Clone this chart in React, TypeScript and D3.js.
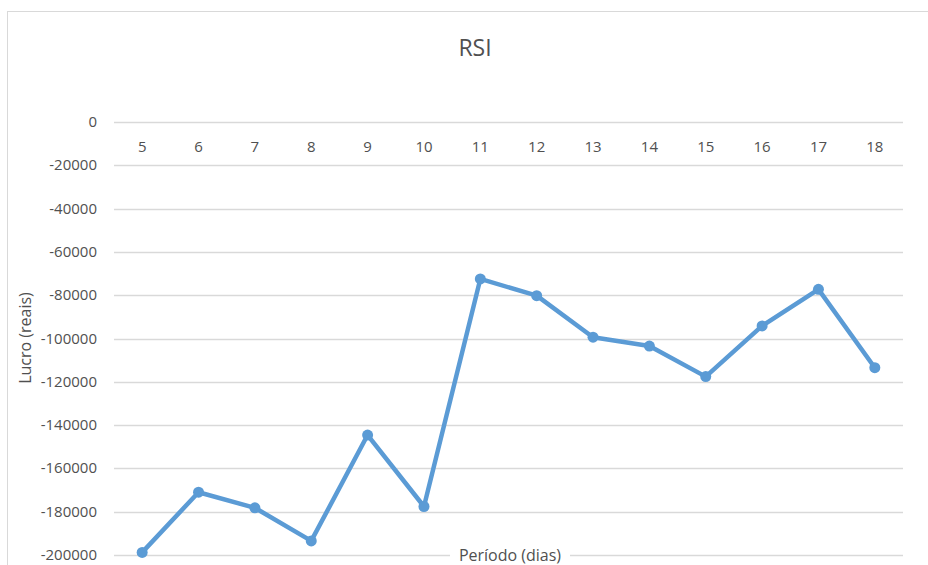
import React from "react";
import * as d3 from "d3";

const categories = ["5", "6", "7", "8", "9", "10", "11", "12", "13", "14", "15", "16", "17", "18"];
const values = [-198800, -171000, -178200, -193500, -144600, -177600, -72500, -80200, -99400, -103500, -117600, -94200, -77300, -113500];
const yTicks = [0, -20000, -40000, -60000, -80000, -100000, -120000, -140000, -160000, -180000, -200000];
const title = "RSI";
const xTitle = "Período (dias)";
const yTitle = "Lucro (reais)";

const W = 928;
const H = 565;
const FONT = "'Open Sans', sans-serif";
const TXT = "#505050";

export default function App() {
  const x = d3.scaleBand<string>().domain(categories).range([114, 903]);
  const y = d3.scaleLinear().domain([0, -200000]).range([122, 555]);
  const line = d3
    .line<number>()
    .x((_, i) => (x(categories[i]) as number) + x.bandwidth() / 2)
    .y((d) => y(d));
  return (
    <svg width={W} height={H} style={{ position: "absolute", left: 0, top: 0, background: "#fff" }}>
      <rect x={0} y={0} width={W} height={H} fill="#fff" />
      <rect x={7.5} y={11.5} width={W + 20} height={H + 20} fill="none" stroke="#d9d9d9" strokeWidth={1} />
      <text x={475} y={56} textAnchor="middle" fontFamily={FONT} fontSize={23} fill={TXT}>
        {title}
      </text>
      {yTicks.map((t) => (
        <g key={t}>
          <line x1={114} x2={903} y1={Math.round(y(t)) + 0.5} y2={Math.round(y(t)) + 0.5} stroke="#d9d9d9" strokeWidth={1.5} />
          <text x={97} y={y(t) + 5} textAnchor="end" fontFamily={FONT} fontSize={15} fill={TXT}>
            {String(t)}
          </text>
        </g>
      ))}
      {categories.map((c) => (
        <text key={c} x={(x(c) as number) + x.bandwidth() / 2} y={152} textAnchor="middle" fontFamily={FONT} fontSize={15} fill={TXT}>
          {c}
        </text>
      ))}
      <path d={line(values) || ""} fill="none" stroke="#5B9BD5" strokeWidth={4.5} strokeLinejoin="round" />
      {values.map((v, i) => (
        <circle key={i} cx={(x(categories[i]) as number) + x.bandwidth() / 2} cy={y(v)} r={5.5} fill="#5B9BD5" />
      ))}
      <rect x={450} y={546} width={120} height={20} fill="#fff" />
      <text x={510} y={561} textAnchor="middle" fontFamily={FONT} fontSize={16} fill={TXT}>
        {xTitle}
      </text>
      <text transform={`translate(31,338) rotate(-90)`} textAnchor="middle" fontFamily={FONT} fontSize={16} fill={TXT}>
        {yTitle}
      </text>
    </svg>
  );
}
